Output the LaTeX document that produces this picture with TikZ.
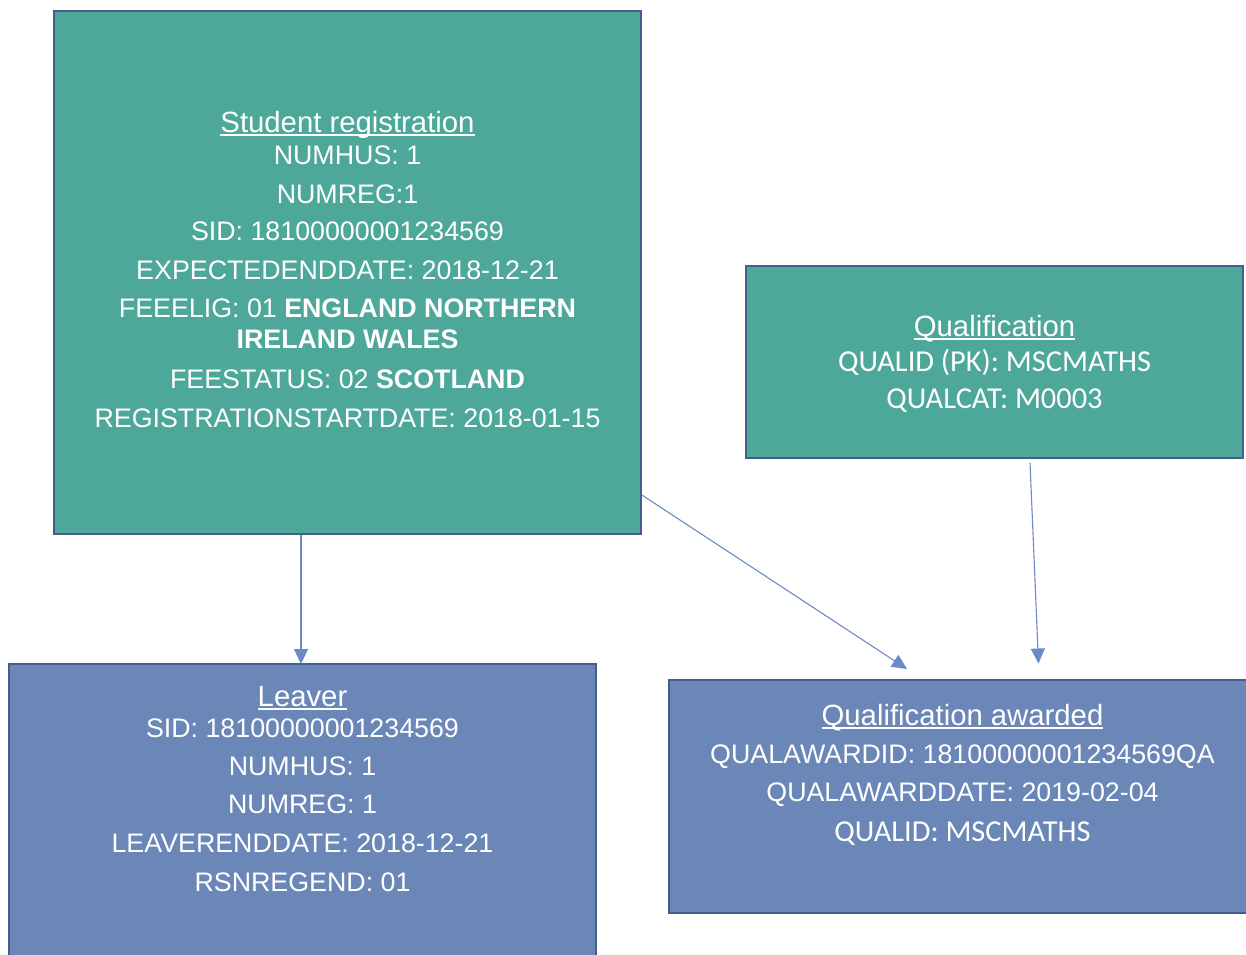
\documentclass[tikz,border=0pt]{standalone}
\usepackage{fontspec}
\setmainfont{Liberation Sans}
\newfontfamily\calfont{Carlito}
\usetikzlibrary{arrows.meta}
\definecolor{tealfill}{RGB}{78,168,153}
\definecolor{bluefill}{RGB}{106,135,184}
\definecolor{edgecol}{RGB}{70,92,140}
\definecolor{conncol}{RGB}{108,139,198}
\newcommand\fa{\fontsize{26.8}{31}\selectfont}
\newcommand\ft{\fontsize{29.3}{34}\selectfont}
\newcommand\fc{\calfont\fontsize{30.4}{35}\selectfont}
\newcommand\ulin[1]{\sbox0{#1}\rlap{\rule[-3.5pt]{\wd0}{2pt}}\usebox0}
\tikzset{
  box/.style={draw=edgecol, line width=2.5pt, rectangle, inner sep=0pt},
  tealbox/.style={box, fill=tealfill},
  bluebox/.style={box, fill=bluefill},
  txt/.style={anchor=base, inner sep=0pt, text=white, font=\fa},
  ttxt/.style={anchor=base, inner sep=0pt, text=white, font=\ft},
  ctxt/.style={anchor=base, inner sep=0pt, text=white, font=\fc},
  conn/.style={draw=conncol, line width=1.1pt, -{Triangle[width=14pt,length=15pt]}}
}
\begin{document}
\begin{tikzpicture}[x=1pt,y=-1pt]
\useasboundingbox (0,0) rectangle (1246,954);
\clip (0,0) rectangle (1246,954);
\fill[white] (0,0) rectangle (1246,954);

% boxes
\node[tealbox, minimum width=587pt, minimum height=523pt] (sr) at (347.5,272.5) {};
\node[tealbox, minimum width=497pt, minimum height=192pt] (q) at (994.5,362) {};
\node[bluebox, minimum width=587pt, minimum height=302pt] (lv) at (302.5,815) {};
\node[bluebox, minimum width=587pt, minimum height=233pt] (qa) at (962.5,796.5) {};

% Student registration text
\node[ttxt] (sr0) at (347.5,132) {\ulin{Student registration}};
\node[txt] (sr1) at (347.5,164) {NUMHUS: 1};
\node[txt] (sr2) at (347.5,203) {NUMREG:1};
\node[txt] (sr3) at (347.5,240.5) {SID: 18100000001234569};
\node[txt] (sr4) at (347.5,279) {EXPECTEDENDDATE: 2018-12-21};
\node[txt] (sr5) at (347.5,317) {FEEELIG: 01 \textbf{ENGLAND NORTHERN}};
\node[txt] (sr6) at (347.5,348) {\textbf{IRELAND WALES}};
\node[txt] (sr7) at (347.5,388) {FEESTATUS: 02 \textbf{SCOTLAND}};
\node[txt] (sr8) at (347.5,427) {REGISTRATIONSTARTDATE: 2018-01-15};

% Qualification text
\node[ttxt] (q0) at (994.5,336.5) {\ulin{Qualification}};
\node[ctxt] (q1) at (994.5,371.5) {QUALID (PK): MSCMATHS};
\node[ctxt] (q2) at (994.5,408) {QUALCAT: M0003};

% Leaver text
\node[ttxt] (lv0) at (302.5,706) {\ulin{Leaver}};
\node[txt] (lv1) at (302.5,737) {SID: 18100000001234569};
\node[txt] (lv2) at (302.5,775) {NUMHUS: 1};
\node[txt] (lv3) at (302.5,813.5) {NUMREG: 1};
\node[txt] (lv4) at (302.5,852) {LEAVERENDDATE: 2018-12-21};
\node[txt] (lv5) at (302.5,891) {RSNREGEND: 01};

% Qualification awarded text
\node[ttxt] (qa0) at (962.5,725) {\ulin{Qualification awarded}};
\node[txt] (qa1) at (962.5,763) {QUALAWARDID: 18100000001234569QA};
\node[txt] (qa2) at (962.5,801.5) {QUALAWARDDATE: 2019-02-04};
\node[ctxt] (qa3) at (962.5,841.5) {QUALID: MSCMATHS};

% connectors
\coordinate (t1) at (301,664);
\coordinate (t2) at (907,669);
\coordinate (t3) at (1038.5,663.5);
\draw[conn] (sr.south -| t1) -- (t1);
\draw[conn] ([yshift=40pt]sr.south east) -- (t2);
\draw[conn] ([xshift=35.5pt,yshift=-3.5pt]q.south) -- (t3);
\end{tikzpicture}
\end{document}
